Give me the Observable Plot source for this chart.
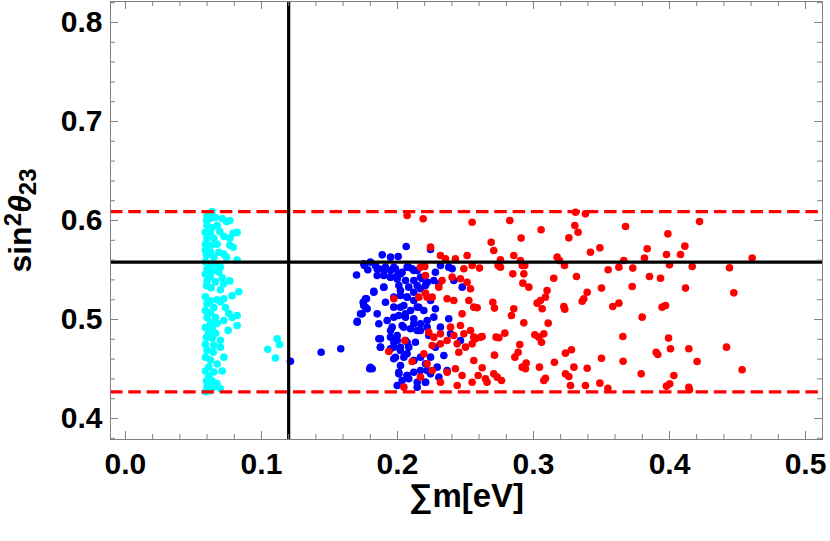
<!DOCTYPE html>
<html><head><meta charset="utf-8">
<script src="https://cdn.jsdelivr.net/npm/d3@7"></script>
<script src="https://cdn.jsdelivr.net/npm/@observablehq/plot@0.6"></script>
<style>body{margin:0;background:#fff} #chart svg{display:block}</style>
</head><body><div id="chart"></div>
<script>
// tick values
const xMajor = [0, 0.1, 0.2, 0.3, 0.4, 0.5];
const xMinor = [0.02,0.04,0.06,0.08,0.12,0.14,0.16,0.18,0.22,0.24,0.26,0.28,0.32,0.34,0.36,0.38,0.42,0.44,0.46,0.48];
const xLabels = ["0.0","0.1","0.2","0.3","0.4","0.5"];
const yMajor = [0.4, 0.5, 0.6, 0.7, 0.8];
const yMinor = [0.38,0.42,0.44,0.46,0.48,0.52,0.54,0.56,0.58,0.62,0.64,0.66,0.68,0.72,0.74,0.76,0.78,0.82];
const yLabels = ["0.4","0.5","0.6","0.7","0.8"];
// reference lines
const sumBound = [0.12];
const bestFit = [0.558];
const range3s = [0.427, 0.609];

// cyan series [sum m, sin^2 theta23]
const cyanPts = [[0.0637,0.609],[0.0600,0.605],[0.0596,0.600],[0.0625,0.602],[0.0662,0.603],[0.0711,0.602],[0.0743,0.599],[0.0767,0.600],[0.0600,0.595],[0.0637,0.593],[0.0674,0.595],[0.0821,0.588],[0.0792,0.587],[0.0588,0.588],[0.0625,0.587],[0.0694,0.589],[0.0600,0.582],[0.0650,0.582],[0.0723,0.584],[0.0767,0.582],[0.0588,0.576],[0.0630,0.575],[0.0674,0.576],[0.0767,0.575],[0.0792,0.573],[0.0588,0.570],[0.0625,0.568],[0.0686,0.568],[0.0723,0.566],[0.0596,0.565],[0.0650,0.563],[0.0743,0.563],[0.0821,0.560],[0.0588,0.558],[0.0620,0.556],[0.0662,0.555],[0.0698,0.553],[0.0600,0.551],[0.0637,0.549],[0.0686,0.548],[0.0588,0.546],[0.0625,0.543],[0.0711,0.542],[0.0767,0.539],[0.0600,0.539],[0.0662,0.538],[0.0723,0.536],[0.0596,0.534],[0.0630,0.532],[0.0698,0.530],[0.0833,0.528],[0.0588,0.523],[0.0625,0.519],[0.0674,0.520],[0.0723,0.521],[0.0784,0.524],[0.0600,0.516],[0.0698,0.518],[0.0650,0.512],[0.0588,0.509],[0.0625,0.507],[0.0735,0.512],[0.0760,0.506],[0.0821,0.504],[0.0600,0.502],[0.0662,0.502],[0.0784,0.502],[0.0625,0.497],[0.0674,0.496],[0.0723,0.499],[0.0588,0.492],[0.0637,0.491],[0.0821,0.494],[0.0613,0.487],[0.0662,0.486],[0.0755,0.489],[0.0596,0.482],[0.0637,0.481],[0.0698,0.479],[0.0588,0.475],[0.0650,0.474],[0.0698,0.472],[0.0600,0.469],[0.0645,0.467],[0.0723,0.462],[0.0588,0.462],[0.0625,0.459],[0.0674,0.455],[0.0613,0.452],[0.0588,0.448],[0.0711,0.448],[0.0650,0.447],[0.0613,0.443],[0.0596,0.438],[0.0637,0.438],[0.0674,0.435],[0.0600,0.432],[0.0650,0.432],[0.0588,0.427],[0.0698,0.430],[0.0625,0.428],
[0.1046,0.4700],[0.1115,0.4805],[0.1132,0.4747],[0.1103,0.4611]];

// blue series
const bluePts = [[0.1213,0.4579],[0.1439,0.4670],[0.1583,0.4704],[0.1699,0.5450],[0.1704,0.4983],[0.1740,0.5057],[0.1748,0.5175],[0.1772,0.5210],[0.1765,0.5124],[0.1752,0.5563],[0.1782,0.5502],[0.1796,0.4502],
[0.2064,0.5737],[0.1888,0.5653],[0.1949,0.5630],[0.2005,0.5636],[0.1757,0.5545],[0.1801,0.5580],[0.1851,0.5510],[0.1899,0.5495],[0.1973,0.5528],[0.2022,0.5460],[0.2083,0.5528],[0.2120,0.5495],[0.2169,0.5427],[0.2218,0.5377],[0.1949,0.5427],[0.1998,0.5410],[0.1826,0.5276],[0.1899,0.5326],[0.1765,0.5210],[0.1752,0.5141],[0.1728,0.5057],[0.1704,0.4973],[0.1777,0.5108],[0.1863,0.4957],[0.1973,0.5226],[0.2022,0.5293],[0.2071,0.5226],[0.2120,0.5192],[0.2157,0.5124],[0.2022,0.5124],[0.2059,0.5057],[0.1973,0.5023],[0.1949,0.4889],[0.1998,0.4838],[0.2046,0.4922],[0.2120,0.4957],[0.2169,0.4889],[0.2218,0.4990],[0.1875,0.4805],[0.1875,0.4720],[0.1973,0.4771],[0.2022,0.4720],[0.2071,0.4771],[0.1985,0.4619],[0.2071,0.4654],[0.2120,0.4586],[0.1801,0.4518],[0.2010,0.4451],[0.2071,0.4434],[0.2145,0.4316],[0.2206,0.4367],[0.2218,0.4485],[0.2169,0.4619],[0.1949,0.4704],[0.2022,0.4535],
[0.1838,0.5545],[0.1863,0.5512],[0.1912,0.5529],[0.1949,0.5495],[0.1985,0.5512],[0.1851,0.5444],[0.1900,0.5444],[0.1949,0.5428],[0.1998,0.5444],[0.2034,0.5478],[0.2071,0.5529],[0.2108,0.5512],[0.2145,0.5495],[0.2059,0.5394],[0.2120,0.5394],[0.2010,0.5343],[0.2083,0.5327],[0.2145,0.5343],[0.1826,0.5286],[0.1900,0.5327],[0.1912,0.5175],[0.2022,0.5242],[0.2071,0.5226],[0.2120,0.5276],[0.1973,0.5125],[0.2047,0.5141],[0.2096,0.5091],[0.2145,0.5125],[0.2010,0.5040],[0.2059,0.5024],[0.2120,0.5007],[0.1851,0.5057],[0.1924,0.4990],[0.1961,0.4923],[0.2034,0.4939],[0.2096,0.4906],[0.2145,0.4889],[0.1949,0.4822],[0.1998,0.4788],[0.2059,0.4788],[0.2132,0.4771],[0.1863,0.4805],[0.1875,0.4721],[0.1973,0.4721],[0.2022,0.4687],[0.2083,0.4721],[0.1973,0.4603],[0.2047,0.4620],[0.2120,0.4586],[0.1814,0.4502],[0.2010,0.4468],[0.2071,0.4434],[0.2120,0.4468],[0.2034,0.4384],[0.2083,0.4401],[0.1998,0.4333],[0.2145,0.4367],
[0.2181,0.5411],[0.2218,0.5377],[0.2267,0.5394],[0.2304,0.5360],[0.2169,0.5310],[0.2206,0.5343],[0.2279,0.5478],[0.2377,0.5529],[0.2402,0.5512],[0.2316,0.5545],[0.2414,0.5394],[0.2476,0.5327],[0.2243,0.5192],[0.2279,0.5108],[0.2194,0.5091],[0.2218,0.4923],[0.2169,0.4956],[0.2267,0.5024],[0.2377,0.5007],[0.2316,0.4923],[0.2390,0.4855],[0.2279,0.4721],[0.2341,0.4636],[0.2243,0.4620],[0.2206,0.4552],[0.2292,0.4519],[0.2169,0.4485],[0.2243,0.4451],[0.2206,0.4367],[0.2304,0.4418],[0.2365,0.4485],[0.2463,0.4788],[0.2230,0.4838],[0.2243,0.5707]];

// red series
const redPts = [[0.2071,0.6051],[0.1973,0.5209],[0.2157,0.5226],[0.2054,0.4788],[0.1936,0.4677],[0.2108,0.4576],[0.2047,0.4317],[0.2201,0.5535],[0.2206,0.5266],
[0.2189,0.6017],[0.2549,0.5983],[0.2243,0.5731],[0.2316,0.5646],[0.2353,0.5613],[0.2426,0.5613],[0.2512,0.5646],[0.2549,0.5545],[0.2488,0.5512],[0.2169,0.5529],[0.2328,0.5394],[0.2206,0.5444],[0.2402,0.5428],[0.2463,0.5411],[0.2512,0.5377],[0.2304,0.5327],[0.2537,0.5310],[0.2255,0.5226],[0.2218,0.5226],[0.2365,0.5209],[0.2414,0.5192],[0.2525,0.5192],[0.2561,0.5125],[0.2475,0.5057],[0.2463,0.4939],[0.2390,0.4923],[0.2316,0.4855],[0.2230,0.4872],[0.2267,0.4822],[0.2414,0.4838],[0.2488,0.4855],[0.2537,0.4889],[0.2561,0.4822],[0.2365,0.4788],[0.2255,0.4737],[0.2316,0.4754],[0.2439,0.4754],[0.2500,0.4721],[0.2549,0.4754],[0.2451,0.4670],[0.2194,0.4653],[0.2218,0.4552],[0.2561,0.4586],[0.2255,0.4485],[0.2365,0.4468],[0.2426,0.4502],[0.2475,0.4434],[0.2169,0.4418],[0.2316,0.4367],[0.2439,0.4333],[0.2549,0.4367],
[0.3309,0.6084],[0.3382,0.6067],[0.2826,0.6000],[0.3304,0.5949],[0.3328,0.5882],[0.3056,0.5906],[0.3260,0.5825],[0.2909,0.5822],[0.2689,0.5781],[0.2708,0.5697],[0.3419,0.5680],[0.2855,0.5646],[0.2757,0.5603],[0.2740,0.5545],[0.2904,0.5596],[0.2917,0.5545],[0.2936,0.5545],[0.3174,0.5630],[0.3191,0.5596],[0.3228,0.5545],[0.2603,0.5519],[0.2757,0.5529],[0.2848,0.5461],[0.2929,0.5461],[0.3149,0.5417],[0.3316,0.5434],[0.2922,0.5367],[0.2966,0.5327],[0.3100,0.5293],[0.3395,0.5276],[0.3088,0.5226],[0.3051,0.5192],[0.3027,0.5165],[0.3370,0.5209],[0.3358,0.5185],[0.2701,0.5175],[0.2713,0.5115],[0.2586,0.5118],[0.3064,0.5108],[0.3223,0.5131],[0.3230,0.5104],[0.2855,0.5108],[0.2838,0.5040],[0.2929,0.4966],[0.3108,0.4963],[0.2789,0.4862],[0.2725,0.4822],[0.2745,0.4815],[0.2610,0.4822],[0.2623,0.4828],[0.2574,0.4805],[0.3010,0.4845],[0.3039,0.4822],[0.3076,0.4855],[0.3059,0.4771],[0.2899,0.4747],[0.2887,0.4670],[0.2863,0.4620],[0.2713,0.4640],[0.3279,0.4694],[0.3235,0.4660],[0.2946,0.4559],[0.2917,0.4519],[0.2941,0.4502],[0.3154,0.4569],[0.3044,0.4519],[0.3297,0.4519],[0.3395,0.4508],[0.2623,0.4512],[0.2593,0.4434],[0.2708,0.4451],[0.2733,0.4418],[0.2765,0.4384],[0.2647,0.4401],[0.2659,0.4367],[0.3235,0.4451],[0.3260,0.4424],[0.3088,0.4407],[0.3076,0.4384],[0.3272,0.4333],[0.3382,0.4333],
[0.4221,0.5990],[0.3677,0.5939],[0.3988,0.5865],[0.3488,0.5724],[0.3836,0.5714],[0.4113,0.5741],[0.3978,0.5657],[0.4081,0.5657],[0.3816,0.5620],[0.3664,0.5596],[0.3628,0.5529],[0.3549,0.5502],[0.3730,0.5519],[0.4000,0.5552],[0.4167,0.5535],[0.3853,0.5434],[0.3934,0.5417],[0.3500,0.5317],[0.3726,0.5333],[0.4118,0.5317],[0.3628,0.5165],[0.3583,0.5131],[0.3946,0.5125],[0.3971,0.5141],[0.3799,0.5024],[0.3657,0.4828],[0.3993,0.4812],[0.3902,0.4670],[0.3914,0.4646],[0.4007,0.4704],[0.4142,0.4704],[0.3500,0.4609],[0.3659,0.4579],[0.4203,0.4576],[0.3792,0.4451],[0.4032,0.4434],[0.3488,0.4357],[0.3547,0.4306],[0.3978,0.4327],[0.4002,0.4350],[0.4142,0.4316],[0.4147,0.4290],
[0.4608,0.5620],[0.4441,0.5522],[0.4473,0.5269],[0.4419,0.4721],[0.4534,0.4492]];

const gray = "#808080";
const fontFam = "'Liberation Sans', Arial, sans-serif";
const innerH = 541 - 1 - 102, innerW = 830 - 110 - 8;

const chart = Plot.plot({
  width: 830, height: 541,
  marginLeft: 110, marginRight: 8, marginTop: 1, marginBottom: 102,
  style: {fontFamily: fontFam, background: "#fff", overflow: "visible"},
  x: {domain: [-0.011, 0.5125], axis: null},
  y: {domain: [0.3788, 0.8212], axis: null},
  marks: [
    Plot.dot(cyanPts, {x: d => d[0], y: d => d[1], r: 3.8, fill: "#00ffff", stroke: "none"}),
    Plot.dot(bluePts, {x: d => d[0], y: d => d[1], r: 3.8, fill: "#0000ff", stroke: "none"}),
    Plot.dot(redPts, {x: d => d[0], y: d => d[1], r: 3.8, fill: "#ff0000", stroke: "none"}),
    Plot.ruleY(range3s, {y: d => d, stroke: "#ff0000", strokeWidth: 3.2, strokeDasharray: "12.5,5.8"}),
    Plot.ruleY(bestFit, {y: d => d, stroke: "#000", strokeWidth: 3.2}),
    Plot.ruleX(sumBound, {x: d => d, stroke: "#000", strokeWidth: 3.2}),
    Plot.frame({stroke: gray, strokeWidth: 1}),
    // inward ticks, bottom/top
    Plot.tickX(xMajor, {x: d => d, stroke: gray, insetTop: innerH - 8}),
    Plot.tickX(xMinor, {x: d => d, stroke: gray, insetTop: innerH - 5}),
    Plot.tickX(xMajor, {x: d => d, stroke: gray, insetBottom: innerH - 8}),
    Plot.tickX(xMinor, {x: d => d, stroke: gray, insetBottom: innerH - 5}),
    // inward ticks, left/right
    Plot.tickY(yMajor, {y: d => d, stroke: gray, insetRight: innerW - 8}),
    Plot.tickY(yMinor, {y: d => d, stroke: gray, insetRight: innerW - 5}),
    Plot.tickY(yMajor, {y: d => d, stroke: gray, insetLeft: innerW - 8}),
    Plot.tickY(yMinor, {y: d => d, stroke: gray, insetLeft: innerW - 5}),
    // tick labels
    Plot.text(xMajor, {x: d => d, text: (d, i) => xLabels[i], frameAnchor: "bottom", dy: 34, fontSize: 30, fontWeight: "bold", fill: "#000"}),
    Plot.text(yMajor, {y: d => d, text: (d, i) => yLabels[i], frameAnchor: "left", dx: -8, textAnchor: "end", fontSize: 30, fontWeight: "bold", fill: "#000"}),
    // axis titles
    Plot.text(["∑m[eV]"], {frameAnchor: "bottom", dy: 67, fontSize: 33, fontWeight: "bold", fill: "#000"}),
    Plot.text(["YTITLE"], {frameAnchor: "left", dx: -90, rotate: -90, fontSize: 32, fontWeight: "bold", fill: "#000"})
  ]
});

document.getElementById("chart").appendChild(chart);
// rich y-axis title with superscript / subscript, centred on the frame
d3.select(chart).selectAll("text").each(function() {
  if (this.textContent === "YTITLE") {
    const t = d3.select(this);
    t.text(null);
    t.append("tspan").text("sin");
    t.append("tspan").attr("dy", "-0.42em").attr("font-size", "0.75em").text("2");
    t.append("tspan").attr("dy", "0.315em").attr("font-style", "italic").text("θ");
    t.append("tspan").attr("dy", "0.2em").attr("font-size", "0.75em").text("23");
    const bb = this.getBBox();
    const cur = +(t.attr("x") || 0);
    t.attr("x", cur - (bb.x + bb.width / 2));
  }
});
</script>
</body></html>
